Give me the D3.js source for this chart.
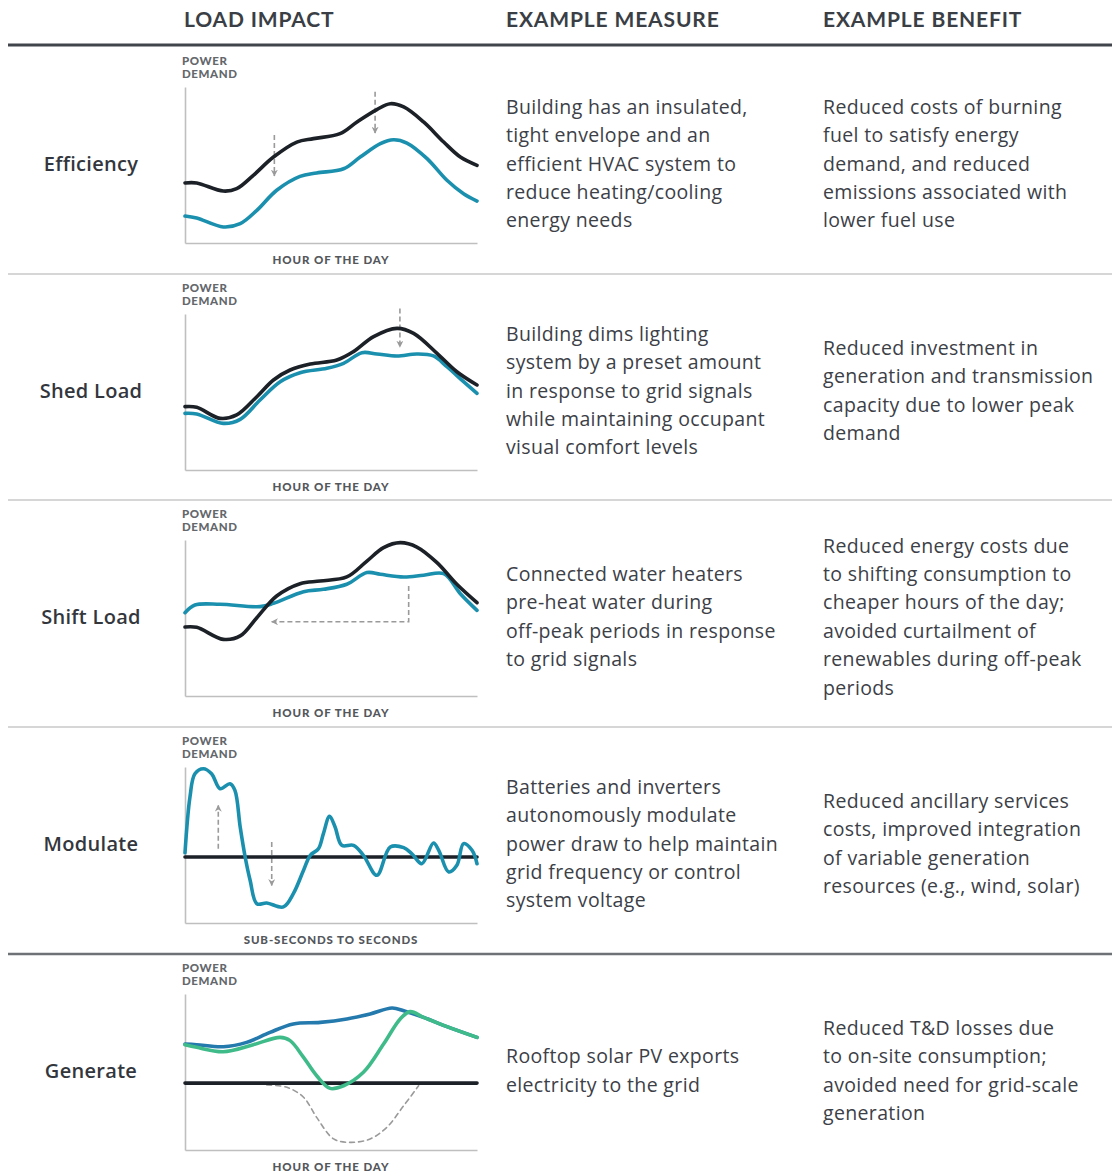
<!DOCTYPE html>
<html>
<head>
<meta charset="utf-8">
<script src="https://cdn.jsdelivr.net/npm/d3@7/dist/d3.min.js"></script>
<style>
  html, body { margin: 0; padding: 0; background: #fff; }
  svg { display: block; }
</style>
</head>
<body>
<svg id="chart" width="1112" height="1176"></svg>
<script>
// ---------- DATA ----------
const headers = ["LOAD IMPACT", "EXAMPLE MEASURE", "EXAMPLE BENEFIT"];
const rowLabels = ["Efficiency", "Shed Load", "Shift Load", "Modulate", "Generate"];
const xAxisLabels = ["HOUR OF THE DAY", "HOUR OF THE DAY", "HOUR OF THE DAY", "SUB-SECONDS TO SECONDS", "HOUR OF THE DAY"];
const yAxisLabel = ["POWER", "DEMAND"];

const measures = [
  ["Building has an insulated,", "tight envelope and an", "efficient HVAC system to", "reduce heating/cooling", "energy needs"],
  ["Building dims lighting", "system by a preset amount", "in response to grid signals", "while maintaining occupant", "visual comfort levels"],
  ["Connected water heaters", "pre-heat water during", "off-peak periods in response", "to grid signals"],
  ["Batteries and inverters", "autonomously modulate", "power draw to help maintain", "grid frequency or control", "system voltage"],
  ["Rooftop solar PV exports", "electricity to the grid"]
];
const benefits = [
  ["Reduced costs of burning", "fuel to satisfy energy", "demand, and reduced", "emissions associated with", "lower fuel use"],
  ["Reduced investment in", "generation and transmission", "capacity due to lower peak", "demand"],
  ["Reduced energy costs due", "to shifting consumption to", "cheaper hours of the day;", "avoided curtailment of", "renewables during off-peak", "periods"],
  ["Reduced ancillary services", "costs, improved integration", "of variable generation", "resources (e.g., wind, solar)"],
  ["Reduced T&D losses due", "to on-site consumption;", "avoided need for grid-scale", "generation"]
];

// curves: [x (0-100 across time), y (0-100 power)]
const efficiencyBaseline = [[0,38.5],[4,38.5],[13.1,33.3],[17.7,34.8],[23.4,43.4],[30.3,55.1],[38.3,64.7],[44,66.9],[53.1,70.1],[58.9,77.6],[65.7,85.5],[70.3,89.3],[74.9,87.2],[81.7,77.6],[88.6,64.7],[94.3,55.1],[100,49.8]];
const efficiencyMeasure = [[0,17.3],[4,16],[13.1,10.3],[18.9,12.4],[24.6,20.9],[31.4,33.8],[39.4,42.7],[45.1,44.9],[54.3,47.6],[60,55.1],[66.9,63.7],[71.4,66.2],[76,64.1],[82.9,54.1],[89.7,40.2],[95.4,31.6],[100,26.9]];

const shedBaseline = [[0,40.6],[4,40.2],[12,33.1],[17.7,35.3],[24.6,47],[30.3,57.7],[36,64.1],[42.9,67.9],[52,70.5],[57.7,75.9],[64.6,85.5],[72.6,90.8],[78.3,87.6],[86.3,74.8],[93.1,63],[100,54.5]];
const shedMeasure = [[0,36.3],[4,35.9],[13.1,29.9],[18.9,32.5],[25.7,44.9],[32.6,56.6],[39.4,62.4],[48.6,65.2],[54.3,68.4],[60.6,75.2],[65.7,74.4],[72.6,73.1],[79.4,74.4],[85.1,73.1],[89.7,66.2],[95.4,56.6],[100,49.1]];

const shiftBaseline = [[0,44.2],[4,44],[13.1,36.3],[18.9,38.5],[24.6,50.2],[31.4,64.1],[39.4,72],[46.3,73.7],[55.4,76.3],[62.3,86.5],[68,95.1],[73.7,98.3],[79.4,95.5],[86.3,85.5],[93.1,71.6],[100,59.8]];
const shiftMeasure = [[0,53.4],[3.4,58.3],[12,58.8],[25.7,57.3],[30.3,59.4],[40.6,66.9],[47.4,68.4],[55.4,71.6],[62.3,79.1],[66.9,78],[74.9,76.3],[81.7,77.4],[88.6,78.4],[94.3,65.6],[100,54.9]];

const modulateBaseline = [[0,42.3],[100,42.3]];
const modulateResponse = [[0,45],[1.7,80.8],[3.4,95.7],[6.3,98.9],[9.1,95.7],[12,86.1],[15.4,89.3],[17.1,85],[18.9,61.5],[20.6,42.3],[22.3,27.4],[24.6,12.4],[28,12.8],[33.7,10.3],[37.1,18.8],[40.6,33.8],[42.9,43.4],[45.7,47.6],[47.4,57.3],[49.5,68.4],[51.4,61.5],[53.7,49.8],[57.7,49.8],[61.1,43.4],[65.7,30.6],[70.3,48.7],[74.9,48.3],[77.7,44.4],[81.1,38],[85.1,51.3],[86.9,46.6],[90.3,32.7],[93.1,37],[95.4,50.9],[98.3,46.6],[100,38]];

const generateZero = [[0,42.9],[100,42.9]];
const generateDemand = [[0,67.9],[4,67.5],[13.1,66.2],[21.1,69],[29.1,75.4],[37.1,80.8],[46.3,81.8],[55.4,84],[63.4,87.2],[70.9,91],[74.9,89.3],[81.7,85],[89.7,79.1],[100,72.2]];
const generateNet = [[0,67.5],[4,65.8],[13.1,63],[23.4,67.5],[32.6,72.2],[36,70.1],[40.6,59.4],[45.1,47.6],[49.7,39.5],[54.3,41.2],[61.1,49.8],[68,67.9],[73.7,84],[77.1,88.7],[81.7,85],[89.7,79.1],[100,72.2]];
const generateSolar = [[28,41.7],[34.9,40.2],[40.6,33.8],[45.1,20.9],[50.9,7.1],[56.6,4.9],[63.4,7.1],[69.1,14.5],[74.9,28.4],[80,41.2]];

// arrows: [x, yStart, yEnd] (arrowhead at end)
const efficiencyArrows = [[30.6,69.2,43],[65.1,97,70.5]];
const shedArrows = [[73.6,103.5,78.8]];
const shiftArrowPath = [[76.6,70.5],[76.6,47.6],[29.7,47.6]];
const modulateArrows = [[11.4,47.6,75.4],[29.7,51.9,24.1]];

// ---------- STYLE ----------
const C = {
  black: "#1c2128", teal: "#1b90ae", blue: "#2479ad", green: "#3fbb8a",
  text: "#3c4047", label: "#33373d", axis: "#bfbfbf", small: "#64676c", dash: "#9a9a9a"
};
const rowTops = [47, 274, 500, 727, 954];
const FONT = "'Open Sans', Lato, sans-serif";
const HFONT = "Lato, 'Open Sans', sans-serif";

const svg = d3.select("#chart");
const defs = svg.append("defs");
defs.append("marker").attr("id", "ah").attr("viewBox", "0 0 10 10")
  .attr("refX", 9).attr("refY", 5).attr("markerWidth", 7).attr("markerHeight", 7)
  .attr("markerUnits", "userSpaceOnUse").attr("orient", "auto")
  .append("path").attr("d", "M0,0 L10,5 L0,10 L3,5 Z").attr("fill", C.dash);

// Header
const headerX = [184, 506, 823];
svg.selectAll("text.hdr").data(headers).join("text")
  .attr("class", "hdr")
  .attr("x", (d, i) => headerX[i]).attr("y", 27)
  .attr("font-family", HFONT).attr("font-weight", 700).attr("font-size", 21)
  .attr("letter-spacing", 0.85)
  .attr("fill", "#3a3e45").text(d => d);
svg.append("line").attr("x1", 8).attr("x2", 1112).attr("y1", 45).attr("y2", 45)
  .attr("stroke", "#40444b").attr("stroke-width", 3);

// separators
[274, 500, 727].forEach(y => {
  svg.append("line").attr("x1", 8).attr("x2", 1112).attr("y1", y).attr("y2", y)
    .attr("stroke", "#d6d6d6").attr("stroke-width", 2);
});
svg.append("line").attr("x1", 8).attr("x2", 1112).attr("y1", 954).attr("y2", 954)
  .attr("stroke", "#6e7176").attr("stroke-width", 2.5);

const lineGen = (x, y) => d3.line().x(d => x(d[0])).y(d => y(d[1])).curve(d3.curveCatmullRom.alpha(0.5));

function drawBlock(lines, xPos, cy) {
  const lh = 28.4;
  const y0 = cy - (lines.length - 1) * lh / 2;
  svg.append("g").selectAll("text").data(lines).join("text")
    .attr("x", xPos).attr("y", (d, i) => y0 + i * lh)
    .attr("dominant-baseline", "central")
    .attr("font-family", FONT).attr("font-size", 19.5).attr("letter-spacing", 0.35)
    .attr("fill", C.text)
    .text(d => d);
}

rowTops.forEach((top, i) => {
  const cy = top + 116;
  // row label
  svg.append("text").attr("x", 91).attr("y", cy).attr("text-anchor", "middle")
    .attr("dominant-baseline", "central")
    .attr("font-family", FONT).attr("font-weight", 600).attr("font-size", 20)
    .attr("letter-spacing", 0.3)
    .attr("fill", C.label).text(rowLabels[i]);
  drawBlock(measures[i], 506, cy);
  drawBlock(benefits[i], 823, cy);

  // mini chart
  const x = d3.scaleLinear().domain([0, 100]).range([185, 477]);
  const y = d3.scaleLinear().domain([0, 100]).range([top + 196, top + 40]);
  const g = svg.append("g");
  g.append("g").attr("transform", `translate(0,${top + 196})`)
    .call(d3.axisBottom(x).ticks(0).tickSizeOuter(0))
    .call(a => a.select(".domain").attr("stroke", C.axis).attr("stroke-width", 1.6));
  g.append("g").attr("transform", `translate(185,0)`)
    .call(d3.axisLeft(y).ticks(0).tickSizeOuter(0))
    .call(a => a.select(".domain").attr("stroke", C.axis).attr("stroke-width", 1.6));

  g.selectAll("text.yl").data(yAxisLabel).join("text").attr("class", "yl")
    .attr("x", 182).attr("y", (d, j) => top + 18 + j * 13)
    .attr("font-family", HFONT).attr("font-weight", 900).attr("font-size", 11.5)
    .attr("letter-spacing", 0.6).attr("fill", C.small).text(d => d);
  g.append("text").attr("x", 331).attr("y", top + 217).attr("text-anchor", "middle")
    .attr("font-family", HFONT).attr("font-weight", 900).attr("font-size", 11.5)
    .attr("letter-spacing", 0.9).attr("fill", "#54575c").text(xAxisLabels[i]);

  const L = lineGen(x, y);
  const path = (data, color, w, dash) => g.append("path").datum(data).attr("d", L)
    .attr("fill", "none").attr("stroke", color).attr("stroke-width", w)
    .attr("stroke-linecap", "round").attr("stroke-linejoin", "round")
    .attr("stroke-dasharray", dash || null);
  const arrow = (a) => g.append("line").attr("x1", x(a[0])).attr("x2", x(a[0]))
    .attr("y1", y(a[1])).attr("y2", y(a[2]))
    .attr("stroke", C.dash).attr("stroke-width", 1.6).attr("stroke-dasharray", "5,3")
    .attr("marker-end", "url(#ah)");

  if (i === 0) {
    efficiencyArrows.forEach(arrow);
    path(efficiencyBaseline, C.black, 3.6);
    path(efficiencyMeasure, C.teal, 3.6);
  } else if (i === 1) {
    shedArrows.forEach(arrow);
    path(shedMeasure, C.teal, 3.6);
    path(shedBaseline, C.black, 3.6);
  } else if (i === 2) {
    g.append("path").datum(shiftArrowPath)
      .attr("d", d3.line().x(d => x(d[0])).y(d => y(d[1])))
      .attr("fill", "none").attr("stroke", C.dash).attr("stroke-width", 1.6)
      .attr("stroke-dasharray", "5,3").attr("marker-end", "url(#ah)");
    path(shiftMeasure, C.teal, 3.6);
    path(shiftBaseline, C.black, 3.6);
  } else if (i === 3) {
    modulateArrows.forEach(arrow);
    path(modulateBaseline, C.black, 3.6);
    path(modulateResponse, C.teal, 3.6);
  } else {
    path(generateSolar, C.dash, 1.6, "5,4");
    path(generateZero, C.black, 3.6);
    path(generateDemand, C.blue, 3.6);
    path(generateNet, C.green, 3.6);
  }
});
</script>
</body>
</html>
